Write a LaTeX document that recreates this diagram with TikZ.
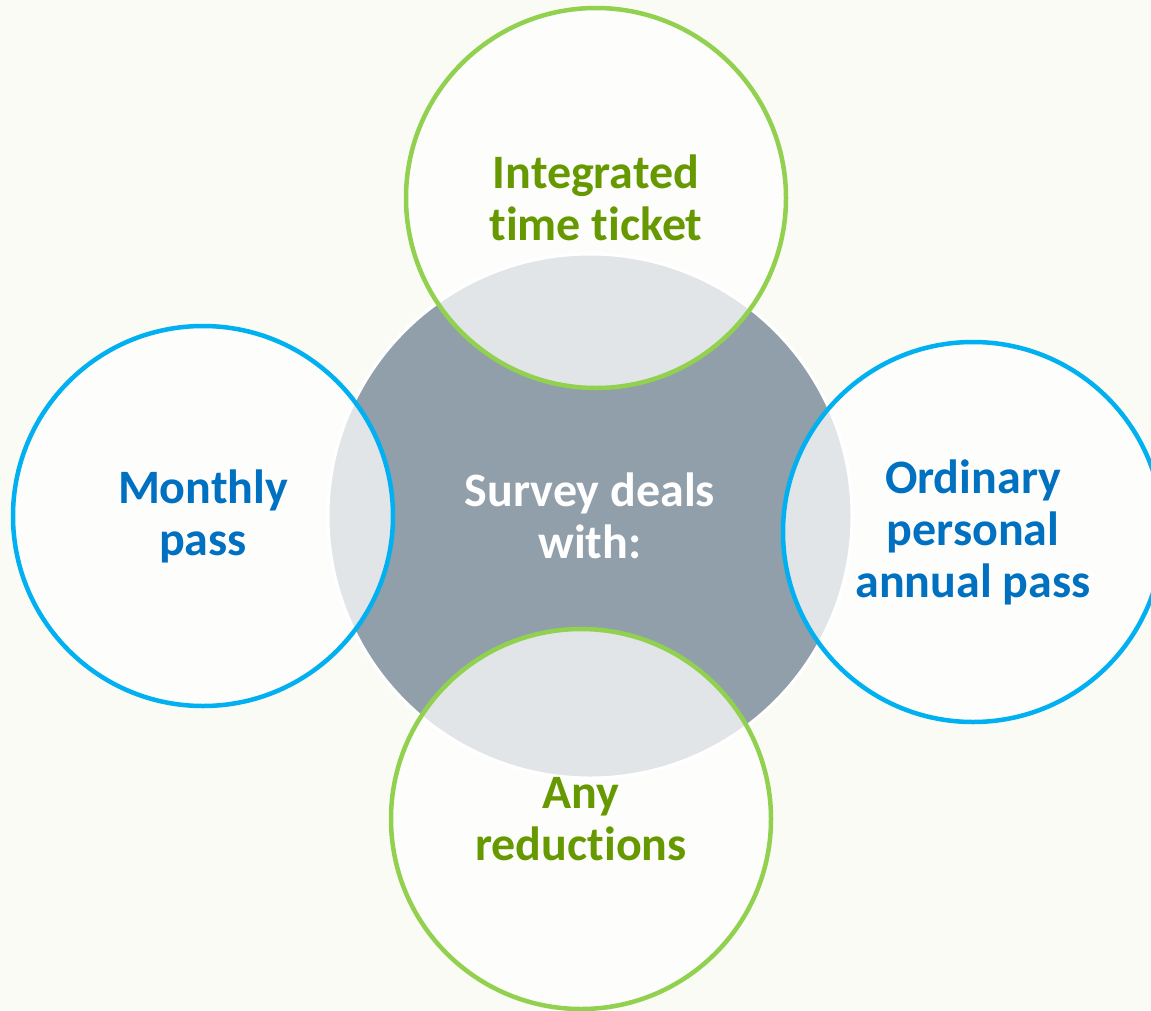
\documentclass[tikz,border=0pt]{standalone}
\usepackage{fontspec}
\setmainfont[Ligatures=NoCommon]{Carlito}
\definecolor{bgc}{RGB}{250,251,245}
\definecolor{hubgray}{RGB}{145,159,170}
\definecolor{ringgreen}{RGB}{146,208,80}
\definecolor{ringblue}{RGB}{0,176,240}
\definecolor{txtgreen}{RGB}{102,153,0}
\definecolor{txtblue}{RGB}{0,112,192}
\tikzset{
  hub/.style={circle, minimum size=524pt, inner sep=0pt, fill=hubgray, draw=white, line width=3pt,
    text=white, font=\bfseries\fontsize{48}{52}\selectfont, align=center},
  petal/.style={circle, minimum size=380pt, inner sep=0pt, fill=white, fill opacity=0.73, text opacity=1,
    line width=4.5pt, font=\bfseries\fontsize{48}{52}\selectfont, align=center},
  greenpetal/.style={petal, draw=ringgreen, text=txtgreen},
  bluepetal/.style={petal, draw=ringblue, text=txtblue}
}
\begin{document}
\begin{tikzpicture}[x=1pt,y=-1pt]
\fill[bgc] (0,0) rectangle (1151,1010);
\useasboundingbox (0,0) rectangle (1151,1010);
\node[hub] (hub) at (590,516) {Survey deals\\with:};
\node[greenpetal] (top) at (596,198) {Integrated\\time ticket};
\node[bluepetal] (left) at (203,516) {Monthly\\pass};
\node[bluepetal] (right) at (973,532) {Ordinary\\personal\\annual pass};
\node[greenpetal] (bottom) at (581,819) {Any\\reductions};
\end{tikzpicture}
\end{document}
